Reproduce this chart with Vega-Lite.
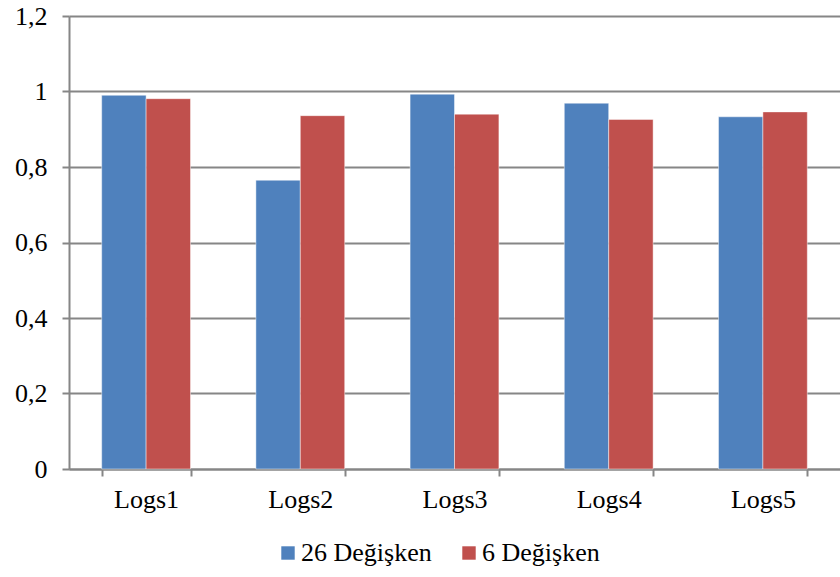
{
  "$schema": "https://vega.github.io/schema/vega-lite/v6.json",
  "width": 771,
  "height": 453,
  "autosize": {"type": "none"},
  "padding": {"left": 69, "top": 16, "right": 0, "bottom": 108},
  "background": "white",
  "data": {
    "values": [
      {"log": "Logs1", "seri": "26 Değişken", "deger": 0.990},
      {"log": "Logs1", "seri": "6 Değişken", "deger": 0.981},
      {"log": "Logs2", "seri": "26 Değişken", "deger": 0.765},
      {"log": "Logs2", "seri": "6 Değişken", "deger": 0.936},
      {"log": "Logs3", "seri": "26 Değişken", "deger": 0.993},
      {"log": "Logs3", "seri": "6 Değişken", "deger": 0.940},
      {"log": "Logs4", "seri": "26 Değişken", "deger": 0.969},
      {"log": "Logs4", "seri": "6 Değişken", "deger": 0.926},
      {"log": "Logs5", "seri": "26 Değişken", "deger": 0.933},
      {"log": "Logs5", "seri": "6 Değişken", "deger": 0.946}
    ]
  },
  "mark": {"type": "bar", "stroke": "white", "strokeOpacity": 0.45, "strokeWidth": 1},
  "encoding": {
    "x": {
      "field": "log",
      "type": "nominal",
      "title": null,
      "scale": {"paddingInner": 0.424, "paddingOuter": 0.212},
      "axis": {
        "labelAngle": 0,
        "tickBand": "extent",
        "tickSize": 7,
        "tickColor": "#868686",
        "tickWidth": 2,
        "domainColor": "#868686",
        "domainWidth": 2,
        "labelPadding": 10,
        "labelFont": "Liberation Serif",
        "labelFontSize": 26,
        "labelColor": "black"
      }
    },
    "xOffset": {"field": "seri", "type": "nominal", "sort": ["26 Değişken", "6 Değişken"]},
    "y": {
      "field": "deger",
      "type": "quantitative",
      "title": null,
      "scale": {"domain": [0, 1.2], "nice": false},
      "axis": {
        "values": [0, 0.2, 0.4, 0.6, 0.8, 1, 1.2],
        "labelExpr": "replace(format(datum.value, '.1~f'), '.', ',')",
        "grid": true,
        "gridColor": "#868686",
        "gridWidth": 2,
        "tickSize": 7,
        "tickColor": "#868686",
        "tickWidth": 2,
        "domainColor": "#868686",
        "domainWidth": 2,
        "labelPadding": 15,
        "labelFont": "Liberation Serif",
        "labelFontSize": 26,
        "labelColor": "black"
      }
    },
    "color": {
      "field": "seri",
      "type": "nominal",
      "sort": ["26 Değişken", "6 Değişken"],
      "scale": {"domain": ["26 Değişken", "6 Değişken"], "range": ["#4F81BD", "#C0504D"]},
      "legend": {
        "title": null,
        "orient": "none",
        "legendX": 206,
        "legendY": 524,
        "direction": "horizontal",
        "symbolType": "square",
        "symbolSize": 180,
        "symbolStrokeWidth": 0,
        "labelFont": "Liberation Serif",
        "labelFontSize": 26,
        "labelColor": "black",
        "labelOffset": 0,
        "columnPadding": 24
      }
    }
  },
  "config": {
    "view": {"stroke": null}
  }
}
